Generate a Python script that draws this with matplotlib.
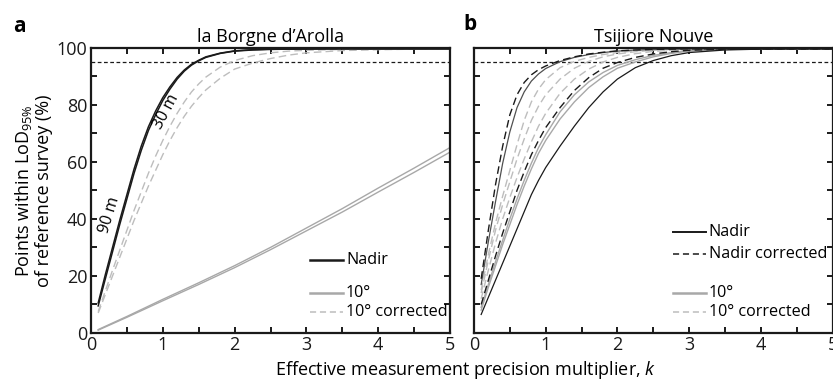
import matplotlib
matplotlib.use("Agg")
import matplotlib.pyplot as plt
from matplotlib.ticker import MultipleLocator, FixedLocator

plt.rcParams['font.family'] = ['Open Sans', 'DejaVu Sans']
plt.rcParams['mathtext.fontset'] = 'custom'
plt.rcParams['mathtext.rm'] = 'Open Sans'
plt.rcParams['mathtext.it'] = 'Open Sans:italic'

# ---- la Borgne d'Arolla ----
k_a = [0.1, 0.2, 0.3, 0.4, 0.5, 0.6, 0.7, 0.8, 0.9, 1.0, 1.1, 1.2, 1.3, 1.4,
       1.5, 1.6, 1.8, 2.0, 2.25, 2.5, 2.75, 3.0, 3.5, 4.0, 4.5, 5.0]
nadir_30m = [9.5, 19, 28.5, 38, 47, 56, 64, 71, 76.5, 81.5, 85.5, 89, 91.8, 93.9,
             95.4, 96.6, 98, 98.8, 99.2, 99.4, 99.5, 99.5, 99.6, 99.6, 99.6, 99.6]
nadir_90m = [10.5, 20.5, 30, 39.5, 48.5, 57.5, 65.5, 72.3, 77.8, 82.5, 86.3, 89.6, 92.2, 94.2,
             95.6, 96.8, 98.1, 98.9, 99.3, 99.5, 99.5, 99.6, 99.6, 99.6, 99.6, 99.6]
tilt_corr_a1 = [7.5, 14.8, 22, 29, 36, 43, 49.5, 56, 62, 67.5, 72.5, 77, 81, 84.5,
                87.3, 89.7, 93.2, 95.5, 97.2, 98.2, 98.8, 99.1, 99.4, 99.5, 99.6, 99.6]
tilt_corr_a2 = [7, 13.5, 20, 26.5, 33, 39.5, 45.5, 51.5, 57, 62.5, 67.5, 72, 76, 79.5,
                82.5, 85.2, 89.3, 92.5, 94.6, 96.2, 97.4, 98.2, 99.0, 99.3, 99.5, 99.6]
k_tilt = [0.1, 0.5, 1.0, 1.5, 2.0, 2.5, 3.0, 3.5, 4.0, 4.5, 5.0]
tilt_a1 = [1.2, 5.8, 11.8, 17.6, 23.6, 30, 36.8, 43.6, 50.8, 57.8, 65]
tilt_a2 = [1.0, 5.5, 11.3, 17.0, 22.9, 29.2, 35.8, 42.4, 49.4, 56.3, 63.4]

# ---- Tsijiore Nouve ----
k_b = [0.1, 0.2, 0.3, 0.4, 0.5, 0.6, 0.7, 0.8, 0.9, 1.0, 1.2, 1.4, 1.6, 1.8,
       2.0, 2.25, 2.5, 2.75, 3.0, 3.5, 4.0, 4.5, 5.0]
nadir_b1 = [17, 32, 46, 59.5, 70.5, 79, 84.5, 88.3, 90.8, 92.7, 95.1, 96.6, 97.6, 98.3,
            98.8, 99.2, 99.4, 99.5, 99.6, 99.6, 99.6, 99.6, 99.6]
nadir_b2 = [6.5, 12.5, 18.5, 24.5, 30.5, 36.5, 42.5, 48.5, 53.5, 58, 65.5, 72.5, 79, 84.5,
            89, 93, 95.5, 97.2, 98.3, 99.2, 99.5, 99.6, 99.6]
nadir_corr_b1 = [19, 36, 52, 65.5, 76.5, 83.5, 87.8, 90.5, 92.3, 93.6, 95.5, 96.8, 97.8, 98.4,
                 98.9, 99.2, 99.4, 99.5, 99.6, 99.6, 99.6, 99.6, 99.6]
nadir_corr_b2 = [10, 18.5, 27, 35, 42.5, 50, 56.5, 62.5, 67.5, 72, 79, 85, 89.5, 92.8,
                 94.8, 96.6, 97.8, 98.6, 99.1, 99.5, 99.6, 99.6, 99.6]
tilt_b1 = [9, 17, 25, 32.5, 40, 47, 53.5, 59.5, 65, 69.5, 77.5, 83.5, 88, 91.3,
           93.8, 95.8, 97.3, 98.3, 99, 99.5, 99.6, 99.6, 99.6]
tilt_b2 = [8, 16, 23.5, 31, 38, 45, 51.5, 57.5, 63, 67.5, 75, 81, 86, 89.8,
           92.8, 95, 96.8, 98, 98.8, 99.4, 99.6, 99.6, 99.6]
tilt_corr_b1 = [15, 27.5, 38.5, 48, 57, 66, 74.5, 81, 85.5, 88.8, 93, 95.2, 96.6, 97.6,
                98.3, 98.9, 99.2, 99.4, 99.5, 99.6, 99.6, 99.6, 99.6]
tilt_corr_b2 = [14, 25.5, 36, 45, 53, 61, 68, 74.5, 79.5, 83.5, 89, 92.8, 95.2, 96.8,
                97.8, 98.6, 99.1, 99.4, 99.5, 99.6, 99.6, 99.6, 99.6]
tilt_corr_b3 = [12, 22, 31.5, 40, 47.5, 54.5, 61, 67, 72.5, 77, 84, 89, 92.5, 95,
                96.6, 97.9, 98.7, 99.1, 99.4, 99.6, 99.6, 99.6, 99.6]

lod_level = 95
x_ticks = [0, 1, 2, 3, 4, 5]
y_ticks = [0, 20, 40, 60, 80, 100]

BLACK = '#1a1a1a'
GREY = '#a8a8a8'
LIGHT = '#bdbdbd'
DASH = (0, (5.5, 3))
FS = 13
FS_LEG = 11.6

fig = plt.figure(figsize=(8.33, 3.83), dpi=100)
W, H = 833.0, 383.0
ax_a = fig.add_axes([91 / W, 50 / H, 359 / W, 285.3 / H])
ax_b = fig.add_axes([474 / W, 50 / H, 358.5 / W, 285.3 / H])


def style_axes(ax, ylabels):
    ax.set_xlim(0, 5)
    ax.set_ylim(0, 100)
    ax.xaxis.set_major_locator(FixedLocator(x_ticks))
    ax.xaxis.set_minor_locator(MultipleLocator(0.5))
    ax.yaxis.set_major_locator(FixedLocator(y_ticks))
    ax.yaxis.set_minor_locator(MultipleLocator(10))
    ax.tick_params(which='both', direction='in', top=True, right=True,
                   length=4.5, width=1.4, labelsize=FS, pad=2.5, colors='#1a1a1a')
    if not ylabels:
        ax.tick_params(axis='y', labelleft=False)
    for s in ax.spines.values():
        s.set_linewidth(1.6)
        s.set_color('#1a1a1a')
    ax.axhline(lod_level, color=BLACK, lw=0.9, ls=(0, (3, 2)), zorder=1)


# panel a
style_axes(ax_a, True)
ax_a.plot(k_tilt, tilt_a2, color=GREY, lw=1.0)
ax_a.plot(k_tilt, tilt_a1, color=GREY, lw=1.0)
ax_a.plot(k_a, tilt_corr_a2, color=LIGHT, lw=1.0, ls=DASH)
ax_a.plot(k_a, tilt_corr_a1, color=LIGHT, lw=1.0, ls=DASH)
ax_a.plot(k_a, nadir_30m, color=BLACK, lw=1.1)
ax_a.plot(k_a, nadir_90m, color=BLACK, lw=1.1)
ax_a.text(1.05, 77.5, '30 m', rotation=62, ha='center', va='center', fontsize=11.5)
ax_a.text(0.26, 41.5, '90 m', rotation=73, ha='center', va='center', fontsize=11.5)
ax_a.set_title('la Borgne d\u2019Arolla', fontsize=FS, pad=4)
ax_a.set_ylabel('Points within LoD$_{95\\%}$\nof reference survey (%)', fontsize=FS,
                labelpad=3, linespacing=1.05)

# panel b
style_axes(ax_b, False)
ax_b.plot(k_b, tilt_corr_b3, color=LIGHT, lw=1.0, ls=DASH)
ax_b.plot(k_b, tilt_corr_b2, color=LIGHT, lw=1.0, ls=DASH)
ax_b.plot(k_b, tilt_corr_b1, color=LIGHT, lw=1.0, ls=DASH)
ax_b.plot(k_b, tilt_b2, color=GREY, lw=1.0)
ax_b.plot(k_b, tilt_b1, color=GREY, lw=1.0)
ax_b.plot(k_b, nadir_b1, color='#505050', lw=0.9)
ax_b.plot(k_b, nadir_corr_b2, color=BLACK, lw=1.0, ls=DASH)
ax_b.plot(k_b, nadir_corr_b1, color=BLACK, lw=1.0, ls=DASH)
ax_b.plot(k_b, nadir_b2, color=BLACK, lw=0.9)
ax_b.set_title('Tsijiore Nouve', fontsize=FS, pad=4)


def legend_rows(ax, x0, rows):
    # rows: (y in axes fraction, label, color, linestyle, linewidth)
    for y, label, color, ls, lw in rows:
        ax.plot([x0, x0 + 0.092], [y, y], transform=ax.transAxes, color=color,
                ls=ls, lw=lw, clip_on=False)
        ax.text(x0 + 0.1, y, label, transform=ax.transAxes, fontsize=FS_LEG,
                ha='left', va='center')


def fy(py):
    return (333.0 - py) / 285.3


legend_rows(ax_a, (310 - 91) / 359, [
    (fy(260), 'Nadir', BLACK, '-', 1.8),
    (fy(292.7), '10\u00b0', GREY, '-', 1.8),
    (fy(311.7), '10\u00b0 corrected', LIGHT, (0, (4, 2.5)), 1.1),
])
legend_rows(ax_b, (673 - 474) / 359, [
    (fy(231.7), 'Nadir', BLACK, '-', 1.4),
    (fy(254), 'Nadir corrected', BLACK, (0, (4, 2.5)), 1.1),
    (fy(292.7), '10\u00b0', GREY, '-', 1.8),
    (fy(312.3), '10\u00b0 corrected', LIGHT, (0, (4, 2.5)), 1.1),
])

fig.text(19 / W, 1 - 26 / H, 'a', fontsize=15, fontweight='bold', ha='center', va='center')
fig.text(470 / W, 1 - 24 / H, 'b', fontsize=15, fontweight='bold', ha='center', va='center')
fig.text(466 / W, 1 - 370 / H, 'Effective measurement precision multiplier, $k$',
         fontsize=FS, ha='center', va='center')

fig.savefig('out.png', dpi=100)
